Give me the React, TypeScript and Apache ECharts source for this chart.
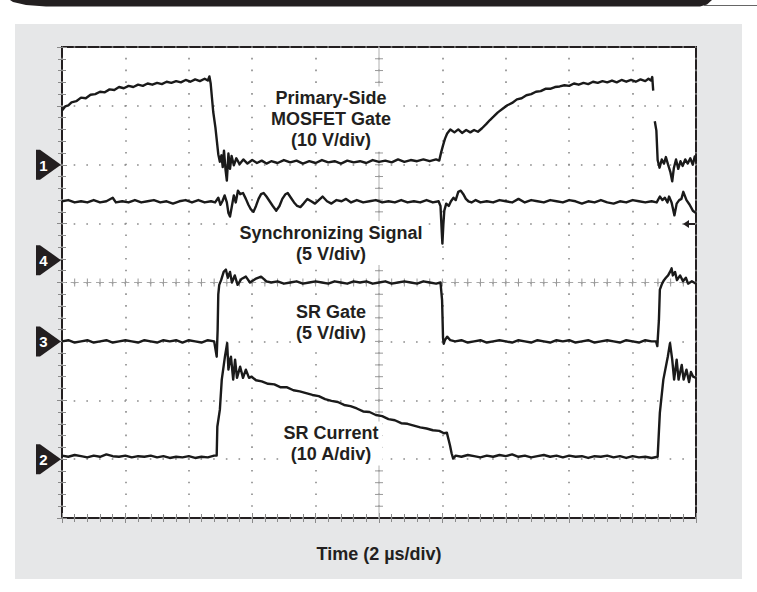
import React, { useEffect, useRef } from "react";
import * as echarts from "echarts";

// Time axis: 10 divisions at 2 µs/div
const timeMin = 0;
const timeMax = 20;
const timeStep = 2;
const verticalDivisions = 8;

// [time µs, volts] — Primary-side MOSFET gate, 10 V/div
const primaryGate: [number, number | null][] = [
  [0, 9.2], [0.1, 9.9], [0.2, 10.1], [0.3, 10.6], [0.45, 10.8], [0.6, 11.4], [0.75, 11.3], [0.9, 11.9],
  [1.05, 12.0], [1.2, 12.4], [1.35, 12.3], [1.5, 12.8], [1.65, 12.7], [1.8, 13.2], [1.95, 13.0], [2.1, 13.4],
  [2.25, 13.2], [2.4, 13.6], [2.55, 13.4], [2.7, 13.8], [2.85, 13.6], [3.0, 13.9], [3.15, 13.7], [3.3, 14.1],
  [3.45, 13.9], [3.6, 14.2], [3.75, 14.0], [3.9, 14.4], [4.05, 14.1], [4.2, 14.5], [4.35, 14.2], [4.5, 14.6],
  [4.6, 14.3], [4.65, 15.0], [4.69, 13.8], [4.77, 9.0], [4.84, 6.3], [4.93, 1.8], [4.98, 0.5], [5.03, 1.6],
  [5.07, -0.4], [5.11, 2.4], [5.16, -0.9], [5.2, -2.7], [5.25, 1.9], [5.3, -0.7], [5.35, 1.5], [5.42, -0.1],
  [5.5, 1.1], [5.6, 0.1], [5.72, 0.9], [5.85, 0.2], [6.0, 0.8], [6.15, 0.3], [6.3, 0.7], [6.45, 0.2],
  [6.6, 0.6], [6.8, 0.3], [7.0, 0.8], [7.2, 0.4], [7.4, 0.7], [7.6, 0.2], [7.8, 0.6], [8.0, 0.3],
  [8.2, 0.8], [8.4, 0.4], [8.6, 0.6], [8.8, 0.2], [9.0, 0.7], [9.2, 0.4], [9.4, 0.6], [9.6, 0.3],
  [9.8, 0.8], [10.0, 0.5], [10.2, 0.7], [10.4, 0.4], [10.6, 0.9], [10.8, 0.5], [11.0, 0.8], [11.2, 0.6],
  [11.4, 0.9], [11.6, 0.6], [11.8, 0.9], [11.9, 0.7], [11.96, 2.1], [12.02, 3.3], [12.08, 4.4], [12.15, 5.3],
  [12.25, 6.0], [12.38, 5.5], [12.5, 6.0], [12.62, 5.4], [12.75, 5.9], [12.88, 5.5], [13.0, 5.9], [13.12, 5.6],
  [13.25, 6.2], [13.38, 6.9], [13.5, 7.6], [13.62, 8.2], [13.75, 8.9], [13.9, 9.5], [14.05, 10.1], [14.2, 10.5],
  [14.35, 11.1], [14.5, 11.3], [14.65, 11.8], [14.8, 12.0], [14.95, 12.4], [15.1, 12.5], [15.25, 12.9], [15.4, 12.9],
  [15.55, 13.2], [15.7, 13.3], [15.85, 13.5], [16.0, 13.4], [16.15, 13.8], [16.3, 13.6], [16.45, 13.9], [16.6, 13.7],
  [16.75, 14.1], [16.9, 13.9], [17.05, 14.2], [17.2, 14.0], [17.35, 14.3], [17.5, 14.0], [17.65, 14.4], [17.8, 14.1],
  [17.95, 14.4], [18.1, 14.1], [18.25, 14.5], [18.4, 14.2], [18.5, 14.6], [18.58, 14.3], [18.62, 14.9], [18.65, 12.6],
  [18.67, null], [18.7, 7.4], [18.75, 5.8], [18.79, 0.8], [18.85, -0.5], [18.92, 0.9], [18.99, 0.2], [19.05, 1.3],
  [19.12, 0.0], [19.19, -1.2], [19.25, -2.8], [19.3, -0.6], [19.37, 0.9], [19.44, -0.7], [19.51, 0.6], [19.58, -0.2],
  [19.66, 0.9], [19.74, 0.2], [19.82, 1.1], [19.9, 0.0], [19.96, 1.4], [20, 0.6],
];

// [time µs, volts] — Synchronizing signal, 5 V/div
const syncSignal: [number, number][] = [
  [0, 5.0], [0.2, 5.1], [0.4, 4.9], [0.6, 5.0], [0.8, 4.9], [1.0, 5.1], [1.2, 4.9], [1.4, 5.0],
  [1.6, 5.3], [1.7, 4.9], [1.9, 5.0], [2.1, 4.9], [2.3, 5.1], [2.5, 4.9], [2.7, 5.0], [2.9, 5.1],
  [3.1, 4.9], [3.3, 5.0], [3.5, 4.8], [3.7, 5.0], [3.9, 5.1], [4.1, 4.9], [4.3, 5.1], [4.5, 4.9],
  [4.7, 5.0], [4.83, 4.9], [4.93, 5.3], [5.0, 4.7], [5.06, 5.0], [5.13, 5.5], [5.2, 4.9], [5.25, 4.0],
  [5.3, 3.7], [5.36, 4.6], [5.42, 5.5], [5.48, 4.9], [5.55, 5.9], [5.62, 5.6], [5.71, 5.7], [5.8, 5.2],
  [5.88, 4.7], [5.96, 4.3], [6.04, 4.1], [6.12, 4.6], [6.2, 5.2], [6.28, 5.6], [6.36, 5.7], [6.45, 5.4],
  [6.55, 5.0], [6.65, 4.6], [6.76, 4.2], [6.86, 4.6], [6.95, 5.2], [7.05, 5.6], [7.12, 5.7], [7.22, 5.3],
  [7.32, 4.9], [7.42, 4.6], [7.52, 4.5], [7.62, 4.8], [7.74, 5.2], [7.86, 5.0], [7.98, 4.8], [8.1, 5.1],
  [8.22, 5.4], [8.36, 5.0], [8.5, 4.8], [8.66, 5.1], [8.82, 5.0], [8.96, 5.2], [9.12, 4.9], [9.3, 5.1],
  [9.5, 4.9], [9.7, 5.0], [9.9, 5.1], [10.1, 4.9], [10.3, 5.0], [10.5, 4.9], [10.7, 5.1], [10.9, 4.9],
  [11.1, 5.0], [11.3, 4.9], [11.5, 5.1], [11.7, 4.9], [11.88, 5.0], [11.94, 4.6], [11.98, 2.4], [12.0, 1.4],
  [12.03, 3.0], [12.06, 4.2], [12.12, 4.8], [12.2, 4.6], [12.27, 5.0], [12.35, 5.3], [12.42, 5.1], [12.5, 5.8],
  [12.58, 5.9], [12.66, 5.6], [12.74, 5.2], [12.82, 5.0], [12.92, 4.9], [13.05, 5.1], [13.2, 4.9], [13.4, 5.0],
  [13.6, 4.9], [13.8, 5.1], [14.0, 5.0], [14.2, 4.9], [14.4, 5.2], [14.6, 4.9], [14.8, 5.1], [15.0, 5.0],
  [15.2, 4.9], [15.4, 5.1], [15.6, 5.0], [15.8, 4.9], [16.0, 5.1], [16.2, 5.0], [16.4, 4.8], [16.6, 5.0],
  [16.8, 4.9], [17.0, 5.1], [17.2, 4.9], [17.4, 4.8], [17.6, 5.0], [17.8, 4.9], [18.0, 5.1], [18.2, 5.0],
  [18.4, 4.9], [18.6, 5.0], [18.76, 4.9], [18.86, 5.4], [18.94, 5.1], [19.02, 5.3], [19.1, 4.9], [19.15, 5.4],
  [19.23, 4.9], [19.32, 3.8], [19.39, 4.8], [19.47, 5.1], [19.54, 5.2], [19.6, 5.8], [19.7, 5.1], [19.8, 4.7],
  [19.9, 4.2], [20, 4.0],
];

// [time µs, volts] — SR gate, 5 V/div
const srGate: [number, number][] = [
  [0, 0.0], [0.2, 0.1], [0.4, -0.1], [0.6, 0.0], [0.8, 0.1], [1.0, -0.1], [1.2, 0.0], [1.4, 0.1],
  [1.6, -0.1], [1.8, 0.0], [2.0, 0.1], [2.2, 0.0], [2.4, -0.1], [2.6, 0.1], [2.8, 0.0], [3.0, -0.1],
  [3.2, 0.1], [3.4, 0.0], [3.6, 0.1], [3.8, -0.1], [4.0, 0.1], [4.2, 0.0], [4.4, -0.1], [4.6, 0.1],
  [4.8, 0.0], [4.85, -0.8], [4.88, -1.3], [4.91, 1.0], [4.93, 4.0], [4.96, 4.8], [5.02, 5.2], [5.1, 5.9],
  [5.17, 6.1], [5.23, 5.4], [5.3, 5.9], [5.36, 5.0], [5.45, 5.6], [5.54, 4.8], [5.66, 5.3], [5.8, 5.5],
  [5.93, 5.0], [6.1, 5.3], [6.28, 5.5], [6.45, 5.1], [6.6, 5.0], [6.8, 5.1], [7.0, 4.9], [7.2, 5.0],
  [7.4, 5.1], [7.6, 4.9], [7.8, 5.0], [8.0, 5.1], [8.2, 5.0], [8.4, 4.9], [8.6, 5.1], [8.8, 5.0],
  [9.0, 4.9], [9.2, 5.1], [9.4, 5.0], [9.6, 5.1], [9.8, 4.9], [10.0, 5.0], [10.2, 5.1], [10.4, 4.9],
  [10.6, 5.0], [10.8, 5.1], [11.0, 5.0], [11.2, 4.9], [11.4, 5.1], [11.6, 5.0], [11.8, 4.9], [11.94, 5.0],
  [11.99, 3.5], [12.02, 0.3], [12.04, -0.2], [12.08, 0.1], [12.15, 0.4], [12.25, 0.1], [12.4, 0.0], [12.6, 0.1],
  [12.8, -0.1], [13.0, 0.0], [13.2, 0.1], [13.4, -0.1], [13.6, 0.0], [13.8, 0.1], [14.0, 0.0], [14.2, -0.1],
  [14.4, 0.1], [14.6, 0.0], [14.8, -0.1], [15.0, 0.1], [15.2, 0.0], [15.4, -0.1], [15.6, 0.1], [15.8, 0.0],
  [16.0, 0.1], [16.2, -0.1], [16.4, 0.0], [16.6, 0.1], [16.8, -0.1], [17.0, 0.0], [17.2, 0.1], [17.4, 0.0],
  [17.6, -0.1], [17.8, 0.1], [18.0, 0.0], [18.2, -0.1], [18.4, 0.1], [18.6, 0.0], [18.74, 0.0], [18.78, -0.4],
  [18.83, 1.8], [18.86, 4.4], [18.93, 4.9], [18.99, 5.2], [19.05, 5.4], [19.12, 5.6], [19.18, 5.9], [19.23, 6.2],
  [19.27, 5.6], [19.34, 5.9], [19.4, 5.2], [19.5, 5.6], [19.59, 5.1], [19.68, 5.4], [19.75, 4.9], [19.87, 5.1],
  [20, 4.9],
];

// [time µs, amps] — SR current, 10 A/div
const srCurrent: [number, number][] = [
  [0, 0.6], [0.2, 0.4], [0.4, 0.7], [0.6, 0.5], [0.8, 0.3], [1.0, 0.6], [1.2, 0.4], [1.4, 0.8],
  [1.6, 0.5], [1.8, 0.4], [2.0, 0.6], [2.2, 0.3], [2.4, 0.5], [2.6, 0.4], [2.8, 0.6], [3.0, 0.3],
  [3.2, 0.5], [3.4, 0.2], [3.6, 0.4], [3.8, 0.3], [4.0, 0.5], [4.2, 0.2], [4.4, 0.4], [4.6, 0.3],
  [4.8, 0.6], [4.88, 0.6], [4.9, 5.5], [4.98, 8.4], [5.04, 13.5], [5.14, 17.4], [5.21, 19.7], [5.25, 15.2],
  [5.3, 16.9], [5.33, 17.4], [5.4, 13.5], [5.46, 16.9], [5.52, 13.8], [5.62, 15.7], [5.71, 13.8], [5.8, 15.2],
  [5.9, 13.8], [5.98, 14.0], [6.12, 13.4], [6.3, 13.2], [6.5, 12.8], [6.7, 12.7], [6.9, 12.2], [7.1, 12.2],
  [7.3, 11.7], [7.5, 11.5], [7.7, 11.2], [7.9, 10.9], [8.1, 10.7], [8.3, 10.2], [8.5, 9.9], [8.7, 9.7],
  [8.9, 9.2], [9.1, 9.0], [9.3, 8.6], [9.5, 8.1], [9.7, 8.0], [9.9, 7.5], [10.1, 7.3], [10.3, 6.8],
  [10.5, 6.6], [10.7, 6.1], [10.9, 6.0], [11.1, 5.7], [11.3, 5.4], [11.5, 5.2], [11.7, 4.9], [11.9, 4.8],
  [12.05, 4.4], [12.14, 4.5], [12.2, 3.2], [12.24, 2.3], [12.29, 1.0], [12.34, 0.1], [12.42, 0.6], [12.6, 0.4],
  [12.8, 0.7], [13.0, 0.5], [13.2, 0.3], [13.4, 0.6], [13.6, 0.4], [13.8, 0.7], [14.0, 0.5], [14.2, 0.8],
  [14.4, 0.4], [14.6, 0.6], [14.8, 0.3], [15.0, 0.5], [15.2, 0.7], [15.4, 0.4], [15.6, 0.6], [15.8, 0.3],
  [16.0, 0.6], [16.2, 0.4], [16.4, 0.5], [16.6, 0.2], [16.8, 0.5], [17.0, 0.4], [17.2, 0.6], [17.4, 0.3],
  [17.6, 0.5], [17.8, 0.2], [18.0, 0.5], [18.2, 0.3], [18.4, 0.4], [18.6, 0.2], [18.79, 0.4], [18.86, 7.9],
  [18.97, 13.5], [19.11, 17.4], [19.18, 19.7], [19.25, 16.9], [19.31, 13.5], [19.39, 16.9], [19.45, 13.5], [19.55, 16.0],
  [19.61, 13.5], [19.7, 15.2], [19.78, 13.1], [19.84, 14.8], [19.91, 14.0], [20, 13.8],
];

// Scope channel settings: scale per division and ground-marker position (divisions above bottom)
const channelNumbers = ["1", "4", "3", "2"];
const channelPerDiv = [10, 5, 5, 10];
const channelZeroDiv = [6, 4.38, 3, 1];
const channelData = [primaryGate, syncSignal, srGate, srCurrent];
const channelNames = ["Primary-Side MOSFET Gate", "Synchronizing Signal", "SR Gate", "SR Current"];
const channelLabels = [
  "Primary-Side\nMOSFET Gate\n(10 V/div)",
  "Synchronizing Signal\n(5 V/div)",
  "SR Gate\n(5 V/div)",
  "SR Current\n(10 A/div)",
];
const xAxisTitle = "Time (2 µs/div)";

// Layout
const GRID = { left: 62, top: 47, width: 634, height: 471 };
const LABEL_X = 331;
const LABEL_Y = [119, 243, 322.5, 443.5];
const INK = "#231f20";
const FONT = '"Liberation Sans", Arial, Helvetica, sans-serif';

function buildOption() {
  const divW = GRID.width / ((timeMax - timeMin) / timeStep);
  const divH = GRID.height / verticalDivisions;
  const cx = GRID.left + GRID.width / 2;
  const cy = GRID.top + GRID.height / 2;

  const graphics: any[] = [];

  // top banner
  graphics.push({
    type: "polygon",
    z: 5,
    shape: { points: [[10, 0], [712, 0], [707, 4.5], [700, 6.5], [46, 6.5], [26, 5], [13, 2]] },
    style: { fill: INK },
  });
  graphics.push({
    type: "line",
    z: 5,
    shape: { x1: 704, y1: 5.5, x2: 757, y2: 5.5 },
    style: { stroke: "#666", lineWidth: 1 },
  });

  // center graticule lines with sub-division crosses
  graphics.push({
    type: "line",
    z: 1,
    shape: { x1: cx, y1: GRID.top, x2: cx, y2: GRID.top + GRID.height },
    style: { stroke: "#b0b0b0", lineWidth: 1 },
  });
  graphics.push({
    type: "line",
    z: 1,
    shape: { x1: GRID.left, y1: cy, x2: GRID.left + GRID.width, y2: cy },
    style: { stroke: "#a8a8a8", lineWidth: 1, lineDash: [8, divW / 5 - 8], lineDashOffset: 4 },
  });
  for (let k = 1; k < verticalDivisions * 5; k++) {
    const y = GRID.top + (k * divH) / 5;
    graphics.push({
      type: "line",
      z: 1,
      shape: { x1: cx - 4, y1: y, x2: cx + 4, y2: y },
      style: { stroke: "#999", lineWidth: 1 },
    });
  }
  for (let k = 1; k < 50; k++) {
    const x = GRID.left + (k * divW) / 5;
    graphics.push({
      type: "line",
      z: 1,
      shape: { x1: x, y1: cy - 4, x2: x, y2: cy + 4 },
      style: { stroke: "#999", lineWidth: 1 },
    });
  }

  // channel ground markers
  channelNumbers.forEach((num, i) => {
    const y = GRID.top + (verticalDivisions - channelZeroDiv[i]) * divH;
    graphics.push({
      type: "polygon",
      z: 20,
      shape: { points: [[36, y - 15], [40, y - 15], [61, y], [40, y + 15], [36, y + 15]] },
      style: { fill: INK },
    });
    graphics.push({
      type: "text",
      z: 21,
      x: 43.5,
      y: y + 0.5,
      style: {
        text: num,
        fill: "#fff",
        font: `bold 15px ${FONT}`,
        align: "center",
        verticalAlign: "middle",
      },
    });
  });

  // trigger level arrow (right edge)
  const trigY = 224;
  graphics.push({
    type: "polygon",
    z: 20,
    shape: { points: [[683, trigY], [689, trigY - 4], [689, trigY + 4]] },
    style: { fill: INK },
  });
  graphics.push({
    type: "line",
    z: 20,
    shape: { x1: 688, y1: trigY, x2: 695, y2: trigY },
    style: { stroke: INK, lineWidth: 2 },
  });

  // trace labels
  channelLabels.forEach((txt, i) => {
    graphics.push({
      type: "text",
      z: 30,
      x: LABEL_X,
      y: LABEL_Y[i],
      style: {
        text: txt,
        fill: INK,
        font: `bold 18px ${FONT}`,
        lineHeight: 21,
        align: "center",
        verticalAlign: "middle",
        backgroundColor: "#ffffff",
        padding: [1, 4],
      },
    });
  });

  graphics.push({
    type: "text",
    z: 30,
    x: GRID.left + GRID.width / 2,
    y: 554,
    style: {
      text: xAxisTitle,
      fill: INK,
      font: `bold 18px ${FONT}`,
      align: "center",
      verticalAlign: "middle",
    },
  });

  const tickStyle = { color: "#8a8a8a", width: 1 };
  const borderAxisX = (position: "bottom" | "top", split: boolean) => ({
    type: "value",
    position,
    min: timeMin,
    max: timeMax,
    interval: timeStep,
    axisLine: { show: false },
    axisLabel: { show: false },
    axisTick: { show: true, inside: true, length: 5, lineStyle: tickStyle },
    minorTick: { show: true, splitNumber: 5, length: 4, lineStyle: tickStyle },
    splitLine: {
      show: split,
      lineStyle: { color: "#8a8a8a", width: 1.6, type: [1.6, divH / 5 - 1.6], dashOffset: 0.8 },
    },
  });
  const borderAxisY = (position: "left" | "right", split: boolean) => ({
    type: "value",
    position,
    min: 0,
    max: verticalDivisions,
    interval: 1,
    axisLine: { show: false },
    axisLabel: { show: false },
    axisTick: { show: true, inside: true, length: 5, lineStyle: tickStyle },
    minorTick: { show: true, splitNumber: 5, length: 4, lineStyle: tickStyle },
    splitLine: {
      show: split,
      lineStyle: { color: "#8a8a8a", width: 1.6, type: [1.6, divW / 5 - 1.6], dashOffset: 0.8 },
    },
  });

  const channelAxes = channelPerDiv.map((perDiv, i) => ({
    type: "value",
    show: false,
    min: -channelZeroDiv[i] * perDiv,
    max: (verticalDivisions - channelZeroDiv[i]) * perDiv,
    splitLine: { show: false },
  }));

  return {
    animation: false,
    backgroundColor: "transparent",
    grid: {
      left: GRID.left,
      top: GRID.top,
      width: GRID.width,
      height: GRID.height,
      show: true,
      backgroundColor: "#ffffff",
      borderColor: INK,
      borderWidth: 2,
      outerBoundsMode: "none",
    },
    xAxis: [borderAxisX("bottom", true), borderAxisX("top", false)],
    yAxis: [borderAxisY("left", true), borderAxisY("right", false), ...channelAxes],
    graphic: { elements: graphics },
    series: channelData.map((data, i) => ({
      name: channelNames[i],
      type: "line",
      xAxisIndex: 0,
      yAxisIndex: 2 + i,
      data,
      showSymbol: false,
      symbol: "none",
      silent: true,
      connectNulls: false,
      z: 3,
      lineStyle: { color: "#1a1a1a", width: 2.4, join: "round" },
    })),
  };
}

export default function App() {
  const ref = useRef<HTMLDivElement>(null);
  useEffect(() => {
    if (!ref.current) return;
    const chart = echarts.init(ref.current, null, { renderer: "svg" });
    chart.setOption(buildOption() as any);
    return () => chart.dispose();
  }, []);
  return (
    <div style={{ position: "fixed", left: 0, top: 0, width: 757, height: 592, background: "#ffffff" }}>
      <div
        style={{ position: "absolute", left: 15, top: 24, width: 727, height: 555, background: "#e6e7e8" }}
      />
      <div ref={ref} style={{ position: "absolute", left: 0, top: 0, width: 757, height: 592 }} />
    </div>
  );
}
